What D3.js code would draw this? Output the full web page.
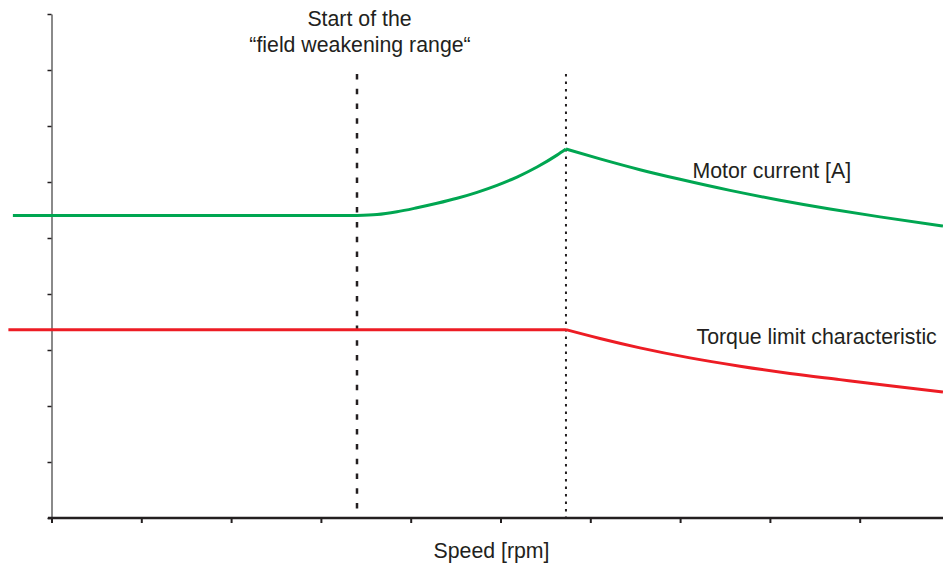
<!DOCTYPE html>
<html>
<head>
<meta charset="utf-8">
<script src="https://cdn.jsdelivr.net/npm/d3@7"></script>
<style>
  html, body { margin: 0; padding: 0; background: #fff; }
  svg { display: block; }
  text { font-family: "Liberation Sans", Arial, Helvetica, sans-serif; fill: #231f20; }
</style>
</head>
<body>
<svg id="chart" width="943" height="565"></svg>
<script>
// ---- data (speed in tick units, value in tick units) ----
const xTicks = [0, 1, 2, 3, 4, 5, 6, 7, 8, 9];
const yTicks = [0, 1, 2, 3, 4, 5, 6, 7, 8, 9];

const currentFlat = [[-0.43, 5.402], [3.402, 5.402]];
const currentRise = [
  [3.402, 5.402], [3.625, 5.418], [3.847, 5.468], [4.070, 5.540], [4.293, 5.620],
  [4.516, 5.710], [4.739, 5.816], [4.961, 5.940], [5.184, 6.089], [5.407, 6.268],
  [5.629, 6.480], [5.729, 6.589]
];
const currentFall = [
  [5.729, 6.589], [6.108, 6.413], [6.553, 6.220], [6.999, 6.048], [7.556, 5.850],
  [8.112, 5.675], [8.669, 5.518], [9.226, 5.377], [9.927, 5.214]
];
const torqueFlat = [[-0.48, 3.363], [5.729, 3.363]];
const torqueFall = [
  [5.729, 3.363], [6.108, 3.205], [6.553, 3.038], [7.110, 2.859], [7.667, 2.711],
  [8.223, 2.581], [8.780, 2.471], [9.337, 2.362], [9.927, 2.250]
];
const fieldWeakStart = 3.402;
const cornerSpeed = 5.729;
const markerTop = 7.93;

const labels = {
  start1: "Start of the",
  start2: "\u201cfield weakening range\u201c",
  current: "Motor current [A]",
  torque: "Torque limit characteristic",
  xTitle: "Speed [rpm]"
};

// ---- scales ----
const svg = d3.select("#chart");
const x = d3.scaleLinear().domain([0, 10]).range([51.5, 949.5]);
const y = d3.scaleLinear().domain([0, 9]).range([518, 14]);

// ---- y axis ----
const yAxis = d3.axisLeft(y).tickValues(yTicks).tickSize(4).tickSizeOuter(0).tickFormat("");
const gy = svg.append("g").attr("transform", "translate(51.5,0)").call(yAxis);
gy.select(".domain").attr("stroke", "#8a8a8a").attr("stroke-width", 2);
gy.selectAll(".tick line").attr("stroke", "#231f20").attr("stroke-width", 1.5);

// ---- vertical markers ----
svg.append("line")
  .attr("x1", x(fieldWeakStart)).attr("x2", x(fieldWeakStart))
  .attr("y1", y(markerTop)).attr("y2", y(0))
  .attr("stroke", "#231f20").attr("stroke-width", 2.5)
  .attr("stroke-dasharray", "5.5,9.3");
svg.append("line")
  .attr("x1", x(cornerSpeed)).attr("x2", x(cornerSpeed))
  .attr("y1", y(markerTop)).attr("y2", y(0))
  .attr("stroke", "#231f20").attr("stroke-width", 2)
  .attr("stroke-dasharray", "2.5,5");

// ---- x axis ----
const xAxis = d3.axisBottom(x).tickValues(xTicks).tickSize(5).tickSizeOuter(0).tickFormat("");
const gx = svg.append("g").attr("transform", "translate(0,518)").call(xAxis);
gx.select(".domain").attr("d", `M${x(-0.04)},0H${x(10.2)}`)
  .attr("stroke", "#231f20").attr("stroke-width", 2.5);
gx.selectAll(".tick line").attr("stroke", "#231f20").attr("stroke-width", 2);

// ---- curves ----
const smooth = d3.line().x(d => x(d[0])).y(d => y(d[1])).curve(d3.curveMonotoneX);
function draw(data, color) {
  svg.append("path").datum(data)
    .attr("d", smooth)
    .attr("fill", "none")
    .attr("stroke", color)
    .attr("stroke-width", 3)
    .attr("stroke-linejoin", "miter");
}
draw(currentFlat, "#00a651");
draw(currentRise, "#00a651");
draw(currentFall, "#00a651");
draw(torqueFlat, "#ed1c24");
draw(torqueFall, "#ed1c24");

// ---- texts ----
const fs = "21.3px";
svg.append("text").attr("x", 359.5).attr("y", 26).attr("text-anchor", "middle")
  .style("font-size", fs).text(labels.start1);
svg.append("text").attr("x", 360).attr("y", 52).attr("text-anchor", "middle")
  .style("font-size", fs).text(labels.start2);
svg.append("text").attr("x", 692.5).attr("y", 178)
  .style("font-size", fs).text(labels.current);
svg.append("text").attr("x", 696.5).attr("y", 344)
  .style("font-size", fs).text(labels.torque);
svg.append("text").attr("x", 491.5).attr("y", 558).attr("text-anchor", "middle")
  .style("font-size", fs).text(labels.xTitle);
</script>
</body>
</html>
